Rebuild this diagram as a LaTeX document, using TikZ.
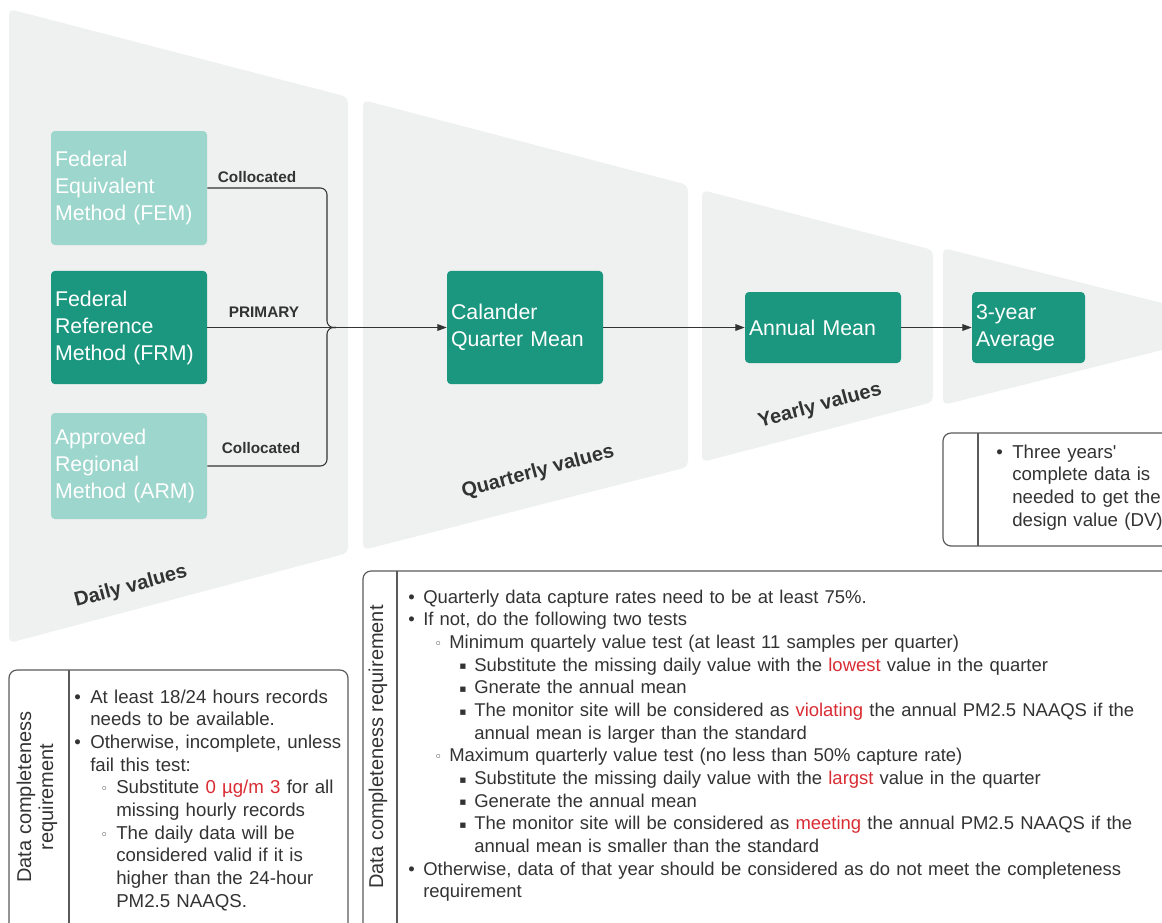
\documentclass[tikz,border=0pt]{standalone}
\usepackage{fontspec}
\setmainfont{Liberation Sans}
\newfontfamily\djv{DejaVu Sans}
\usetikzlibrary{arrows.meta}
\definecolor{bgg}{HTML}{EFF0F0}
\definecolor{lteal}{HTML}{9CD6CC}
\definecolor{dteal}{HTML}{1B977F}
\definecolor{tg}{HTML}{333333}
\definecolor{fr}{HTML}{5A5A5A}
\definecolor{hr}{HTML}{D92B33}
\newcommand\hl[1]{\textcolor{hr}{#1}}
\newcommand\wbul{{\djv\fontsize{10}{10}\selectfont ◦}}
\newcommand\sbul{\raisebox{1pt}{\djv\fontsize{8}{8}\selectfont ▪}}
\begin{document}
\begin{tikzpicture}[x=0.75pt,y=-0.75pt,
  tbox/.style={rounded corners=3pt, inner xsep=3pt, inner ysep=0pt, align=left, text=white,
    font=\fontsize{16}{20.25}\selectfont},
  lbl/.style={text=tg, font=\bfseries\fontsize{11.5}{13}\selectfont, inner sep=0pt},
  rot/.style={text=tg, font=\bfseries\fontsize{15}{18}\selectfont, rotate=15, inner sep=0pt},
  conn/.style={draw=tg, line width=0.8pt},
  arr/.style={conn, -{Triangle[length=7pt,width=5pt]}},
  frame/.style={draw=fr, line width=0.9pt, rounded corners=6pt},
  btext/.style={text=tg, font=\fontsize{14}{17}\selectfont, text width=700pt, align=left, inner sep=0pt, anchor=base west},
  vlab/.style={text=tg, font=\fontsize{15}{16.5}\selectfont, rotate=90, align=center, inner sep=0pt}
]
\useasboundingbox (0,0) rectangle (1162,922);
\begin{scope}
\clip (0,0) rectangle (1162,922);
% stage shapes
\fill[bgg, rounded corners=4pt] (9,9) -- (348,97) -- (348,553) -- (9,643) -- cycle;
\fill[bgg, rounded corners=4pt] (363,100) -- (688,185) -- (688,467) -- (363,550) -- cycle;
\fill[bgg, rounded corners=4pt] (702,190) -- (933,250) -- (933,402) -- (702,462) -- cycle;
\fill[bgg, rounded corners=4pt] (943,248) -- (1256,326.5) -- (943,405) -- cycle;

% boxes
\node[tbox, fill=lteal, minimum height=85.5pt, text width=111pt] (fem) at (129,188) {Federal\\Equivalent\\Method (FEM)};
\node[tbox, fill=dteal, minimum height=85pt, text width=111pt] (frm) at (129,327.5) {Federal\\Reference\\Method (FRM)};
\node[tbox, fill=lteal, minimum height=79.5pt, text width=111pt] (arm) at (129,466) {Approved\\Regional\\Method (ARM)};
\node[tbox, fill=dteal, minimum height=85pt, text width=111pt] (calq) at (525,327.5) {Calander\\Quarter Mean};
\node[tbox, fill=dteal, minimum height=53.25pt, text width=111pt] (ann) at (823,327.5) {Annual Mean};
\node[tbox, fill=dteal, minimum height=53.25pt, text width=78.75pt] (tya) at (1028.5,327.5) {3-year\\Average};

% connectors
\coordinate (j) at (336,327.5);
\draw[arr] (frm.east) -- (calq.west);
\draw[conn, rounded corners=5pt] (fem.east) -- (327,188) -- (327,327.5) -- (j);
\draw[conn, rounded corners=5pt] (arm.east) -- (327,466) -- (327,327.5) -- (j);
\draw[arr] (calq.east) -- (ann.west);
\draw[arr] (ann.east) -- (tya.west);

\node[lbl] (c1) at (257,177) {Collocated};
\node[lbl] (pr) at (264,312) {PRIMARY};
\node[lbl] (c2) at (261,448) {Collocated};

\node[rot] (dv) at (131,587) {Daily values};
\node[rot] (qv) at (538,472) {Quarterly values};
\node[rot] (yv) at (820,406) {Yearly values};

% bottom-left requirement box
\draw[frame] (9,670) rectangle (348,980);
\draw[fr, line width=0.9pt] (69,670) -- (69,980);
\node[vlab] (lv) at (37,797) {Data completeness\\requirement};
\node[btext] (lt) at (72,703) {%
\makebox[13.5pt][l]{\hspace{1.5pt}•}At least 18/24 hours records\\
\hspace*{13.5pt}needs to be available.\\
\makebox[13.5pt][l]{\hspace{1.5pt}•}Otherwise, incomplete, unless\\
\hspace*{13.5pt}fail this test:\\
\hspace*{21pt}\makebox[12pt][l]{\wbul}Substitute \hl{0 µg/m 3} for all\\
\hspace*{33pt}missing hourly records\\
\hspace*{21pt}\makebox[12pt][l]{\wbul}The daily data will be\\
\hspace*{33pt}considered valid if it is\\
\hspace*{33pt}higher than the 24-hour\\
\hspace*{33pt}PM2.5 NAAQS.};

% middle requirement box
\draw[frame] (363,571) rectangle (1220,980);
\draw[fr, line width=0.9pt] (397,571) -- (397,980);
\node[vlab] (mv) at (378,747) {Data completeness requirement};
\node[btext, font=\fontsize{13.85}{17}\selectfont] (mt) at (406,603) {%
\makebox[12.75pt][l]{\hspace{1.5pt}•}Quarterly data capture rates need to be at least 75\%.\\
\makebox[12.75pt][l]{\hspace{1.5pt}•}If not, do the following two tests\\
\hspace*{21pt}\makebox[11.25pt][l]{\wbul}Minimum quartely value test (at least 11 samples per quarter)\\
\hspace*{39.75pt}\makebox[11.25pt][l]{\sbul}Substitute the missing daily value with the \hl{lowest} value in the quarter\\
\hspace*{39.75pt}\makebox[11.25pt][l]{\sbul}Gnerate the annual mean\\
\hspace*{39.75pt}\makebox[11.25pt][l]{\sbul}The monitor site will be considered as \hl{violating} the annual PM2.5 NAAQS if the\\
\hspace*{51pt}annual mean is larger than the standard\\
\hspace*{21pt}\makebox[11.25pt][l]{\wbul}Maximum quarterly value test (no less than 50\% capture rate)\\
\hspace*{39.75pt}\makebox[11.25pt][l]{\sbul}Substitute the missing daily value with the \hl{largst} value in the quarter\\
\hspace*{39.75pt}\makebox[11.25pt][l]{\sbul}Generate the annual mean\\
\hspace*{39.75pt}\makebox[11.25pt][l]{\sbul}The monitor site will be considered as \hl{meeting} the annual PM2.5 NAAQS if the\\
\hspace*{51pt}annual mean is smaller than the standard\\
\makebox[12.75pt][l]{\hspace{1.5pt}•}Otherwise, data of that year should be considered as do not meet the completeness\\
\hspace*{12.75pt}requirement};

% top-right box
\draw[frame] (943,433) rectangle (1220,546);
\draw[fr, line width=0.9pt] (978,433) -- (978,546);
\node[btext] (rt) at (994,458) {%
\makebox[13.5pt][l]{\hspace{1.5pt}•}Three years\textquotesingle\\
\hspace*{13.5pt}complete data is\\
\hspace*{13.5pt}needed to get the\\
\hspace*{13.5pt}design value (DV)};
\end{scope}
\end{tikzpicture}
\end{document}
